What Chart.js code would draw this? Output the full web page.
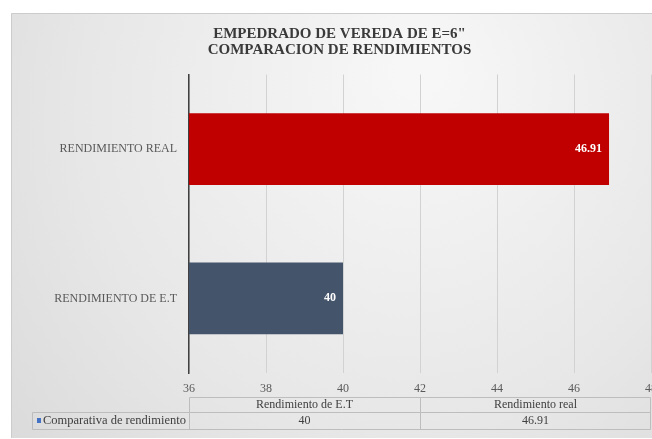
<!DOCTYPE html>
<html>
<head>
<meta charset="utf-8">
<script src="https://cdn.jsdelivr.net/npm/chart.js@4.4.1/dist/chart.umd.min.js"></script>
<style>
  html, body { margin: 0; padding: 0; background: #fff; }
  #wrap { width: 652px; height: 439px; }
</style>
</head>
<body>
<div id="wrap"><canvas id="chart" width="652" height="439"></canvas></div>
<script>
const titleLines = ['EMPEDRADO DE VEREDA DE E=6"', 'COMPARACION DE RENDIMIENTOS'];
const categories = ['Rendimiento de E.T', 'Rendimiento real'];
const axisLabels = ['RENDIMIENTO DE E.T', 'RENDIMIENTO REAL'];
const values = [40, 46.91];
const valueLabels = ['40', '46.91'];
const seriesName = 'Comparativa de rendimiento';
const xMin = 36;
const xMax = 48;
const xStep = 2;
const barColors = ['#44546A', '#C00000'];

const SERIF = '"Liberation Serif", "Times New Roman", serif';

const panelBackground = {
  id: 'panelBackground',
  beforeDraw(chart) {
    const ctx = chart.ctx;
    ctx.save();
    ctx.fillStyle = '#ffffff';
    ctx.fillRect(0, 0, chart.width, chart.height);
    const g = ctx.createRadialGradient(420, 70, 20, 380, 150, 560);
    g.addColorStop(0, '#f7f7f7');
    g.addColorStop(0.55, '#e7e7e7');
    g.addColorStop(1, '#d5d5d5');
    ctx.fillStyle = g;
    ctx.fillRect(11, 13, chart.width - 11, chart.height - 14);
    ctx.strokeStyle = '#cccccc';
    ctx.lineWidth = 1;
    ctx.beginPath();
    ctx.moveTo(11.5, chart.height - 1);
    ctx.lineTo(11.5, 13.5);
    ctx.lineTo(chart.width, 13.5);
    ctx.stroke();
    ctx.restore();
  }
};

const barValues = {
  id: 'barValues',
  afterDatasetsDraw(chart) {
    const ctx = chart.ctx;
    const meta = chart.getDatasetMeta(0);
    ctx.save();
    ctx.font = 'bold 12px ' + SERIF;
    ctx.fillStyle = '#ffffff';
    ctx.textAlign = 'right';
    ctx.textBaseline = 'middle';
    meta.data.forEach((bar, i) => {
      ctx.fillText(valueLabels[i], bar.x - 7, bar.y);
    });
    ctx.restore();
  }
};

const dataTable = {
  id: 'dataTable',
  afterDraw(chart) {
    const ctx = chart.ctx;
    const xs = chart.scales.x;
    const left = Math.round(xs.left);
    const right = Math.round(xs.right);
    const colW = (right - left) / categories.length;
    const top = Math.round(chart.chartArea.bottom) + 24;
    const headH = 14.5;
    const rowH = 17;
    const bottom = top + headH + rowH;
    const keyLeft = 32;

    ctx.save();
    ctx.strokeStyle = '#bdbdbd';
    ctx.lineWidth = 1;
    ctx.beginPath();
    ctx.moveTo(left + 0.5, top + 0.5);
    ctx.lineTo(right - 0.5, top + 0.5);
    ctx.moveTo(keyLeft + 0.5, Math.round(top + headH) + 0.5);
    ctx.lineTo(right - 0.5, Math.round(top + headH) + 0.5);
    ctx.moveTo(keyLeft + 0.5, Math.round(bottom) + 0.5);
    ctx.lineTo(right - 0.5, Math.round(bottom) + 0.5);
    ctx.moveTo(keyLeft + 0.5, Math.round(top + headH) + 0.5);
    ctx.lineTo(keyLeft + 0.5, Math.round(bottom) + 0.5);
    for (let i = 0; i <= categories.length; i++) {
      const x = Math.round(left + i * colW) - (i === categories.length ? 0.5 : -0.5);
      ctx.moveTo(x, top + 0.5);
      ctx.lineTo(x, Math.round(bottom) + 0.5);
    }
    ctx.stroke();

    ctx.font = '12px ' + SERIF;
    ctx.fillStyle = '#404040';
    ctx.textAlign = 'center';
    ctx.textBaseline = 'middle';
    const rowMid = top + headH + rowH / 2;
    categories.forEach((c, i) => {
      const cx = left + (i + 0.5) * colW;
      ctx.fillText(c, cx, top + headH / 2 + 1);
      ctx.fillText(valueLabels[i], cx, rowMid + 1);
    });

    ctx.fillStyle = '#4472C4';
    ctx.fillRect(keyLeft + 5, rowMid - 2, 4, 5);
    ctx.fillStyle = '#404040';
    ctx.textAlign = 'left';
    ctx.font = '12.5px ' + SERIF;
    ctx.fillText(seriesName, keyLeft + 11, rowMid + 1);
    ctx.restore();
  }
};

new Chart(document.getElementById('chart').getContext('2d'), {
  type: 'bar',
  data: {
    labels: axisLabels,
    datasets: [{
      label: seriesName,
      data: values,
      backgroundColor: barColors,
      borderWidth: 0,
      categoryPercentage: 1,
      barPercentage: 0.48,
    }],
  },
  options: {
    indexAxis: 'y',
    responsive: false,
    devicePixelRatio: 1,
    animation: false,
    layout: { padding: { top: 20, left: 28, right: 1, bottom: 46 } },
    plugins: {
      legend: { display: false },
      tooltip: { enabled: false },
      title: {
        display: true,
        text: titleLines,
        color: '#3a3a3a',
        font: { family: SERIF, size: 15, weight: 'bold', lineHeight: 1.05 },
        padding: { top: 6, bottom: 17 },
      },
    },
    scales: {
      x: {
        min: xMin,
        max: xMax,
        ticks: {
          stepSize: xStep,
          color: '#595959',
          padding: 9,
          font: { family: SERIF, size: 12 },
        },
        grid: { color: '#d2d2d2', lineWidth: 1, drawTicks: false },
        border: { display: false },
        afterFit(scale) {
          scale.paddingLeft = 0;
          scale.paddingRight = 0;
          scale.height = 20;
        },
      },
      y: {
        reverse: true,
        ticks: {
          color: '#595959',
          padding: 12,
          font: { family: SERIF, size: 12 },
        },
        grid: { display: false, drawTicks: false },
        border: { display: true, color: '#404040', width: 1.5 },
        afterFit(scale) {
          scale.width = 161;
          scale.paddingTop = 0;
          scale.paddingBottom = 0;
        },
      },
    },
  },
  plugins: [panelBackground, barValues, dataTable],
});
</script>
</body>
</html>
